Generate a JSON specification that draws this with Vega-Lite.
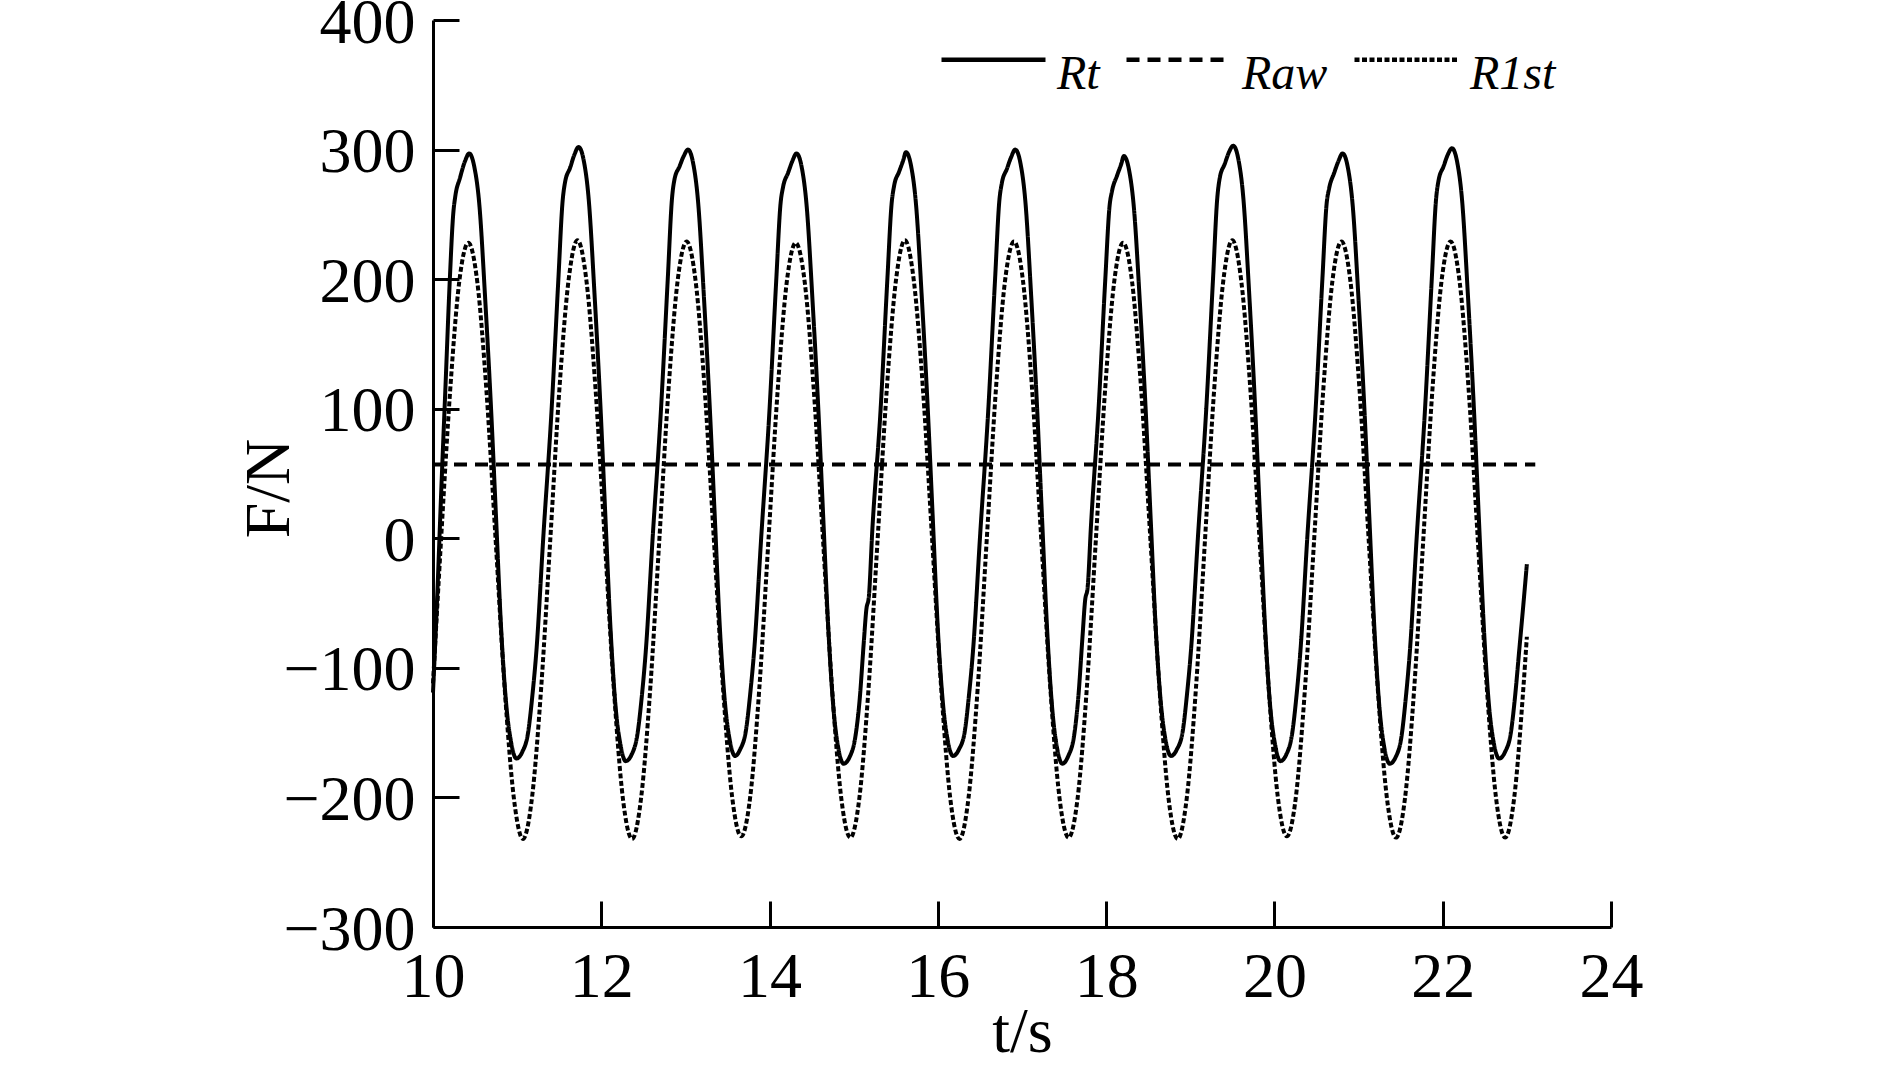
{
  "$schema": "https://vega.github.io/schema/vega-lite/v6.json",
  "autosize": "none",
  "width": 1178,
  "height": 907,
  "padding": {"left": 433, "top": 20, "right": 278, "bottom": 138},
  "background": "white",
  "config": {"view": {"stroke": null}},
  "data": {"values": [
    {"s":"Raw","t":10.0,"F":57},{"s":"Raw","t":23.1,"F":57},

    {"s":"R1st","t":10.000,"F":-112},{"s":"R1st","t":10.096,"F":-1},{"s":"R1st","t":10.204,"F":114},{"s":"R1st","t":10.312,"F":198},
    {"s":"R1st","t":10.420,"F":228},{"s":"R1st","t":10.528,"F":197},{"s":"R1st","t":10.636,"F":113},{"s":"R1st","t":10.744,"F":-1},{"s":"R1st","t":10.852,"F":-116},{"s":"R1st","t":10.960,"F":-200},
    {"s":"R1st","t":11.069,"F":-232},{"s":"R1st","t":11.177,"F":-200},{"s":"R1st","t":11.285,"F":-116},{"s":"R1st","t":11.393,"F":-2},{"s":"R1st","t":11.501,"F":114},{"s":"R1st","t":11.609,"F":198},
    {"s":"R1st","t":11.717,"F":230},{"s":"R1st","t":11.825,"F":198},{"s":"R1st","t":11.933,"F":114},{"s":"R1st","t":12.041,"F":-1},{"s":"R1st","t":12.149,"F":-116},{"s":"R1st","t":12.257,"F":-201},
    {"s":"R1st","t":12.366,"F":-232},{"s":"R1st","t":12.474,"F":-200},{"s":"R1st","t":12.582,"F":-116},{"s":"R1st","t":12.690,"F":-1},{"s":"R1st","t":12.798,"F":114},{"s":"R1st","t":12.906,"F":198},
    {"s":"R1st","t":13.014,"F":229},{"s":"R1st","t":13.122,"F":198},{"s":"R1st","t":13.230,"F":114},{"s":"R1st","t":13.338,"F":-1},{"s":"R1st","t":13.446,"F":-115},{"s":"R1st","t":13.554,"F":-199},
    {"s":"R1st","t":13.663,"F":-230},{"s":"R1st","t":13.771,"F":-199},{"s":"R1st","t":13.879,"F":-115},{"s":"R1st","t":13.987,"F":-1},{"s":"R1st","t":14.095,"F":113},{"s":"R1st","t":14.203,"F":197},
    {"s":"R1st","t":14.311,"F":228},{"s":"R1st","t":14.419,"F":197},{"s":"R1st","t":14.527,"F":113},{"s":"R1st","t":14.635,"F":-1},{"s":"R1st","t":14.743,"F":-116},{"s":"R1st","t":14.851,"F":-200},
    {"s":"R1st","t":14.960,"F":-231},{"s":"R1st","t":15.068,"F":-200},{"s":"R1st","t":15.176,"F":-116},{"s":"R1st","t":15.284,"F":-1},{"s":"R1st","t":15.392,"F":114},{"s":"R1st","t":15.500,"F":198},
    {"s":"R1st","t":15.608,"F":230},{"s":"R1st","t":15.716,"F":198},{"s":"R1st","t":15.824,"F":114},{"s":"R1st","t":15.932,"F":-1},{"s":"R1st","t":16.040,"F":-116},{"s":"R1st","t":16.148,"F":-201},
    {"s":"R1st","t":16.257,"F":-232},{"s":"R1st","t":16.365,"F":-200},{"s":"R1st","t":16.473,"F":-116},{"s":"R1st","t":16.581,"F":-1},{"s":"R1st","t":16.689,"F":114},{"s":"R1st","t":16.797,"F":198},
    {"s":"R1st","t":16.905,"F":229},{"s":"R1st","t":17.013,"F":198},{"s":"R1st","t":17.121,"F":114},{"s":"R1st","t":17.229,"F":-1},{"s":"R1st","t":17.337,"F":-116},{"s":"R1st","t":17.445,"F":-200},
    {"s":"R1st","t":17.554,"F":-231},{"s":"R1st","t":17.662,"F":-200},{"s":"R1st","t":17.770,"F":-116},{"s":"R1st","t":17.878,"F":-1},{"s":"R1st","t":17.986,"F":113},{"s":"R1st","t":18.094,"F":197},
    {"s":"R1st","t":18.202,"F":228},{"s":"R1st","t":18.310,"F":197},{"s":"R1st","t":18.418,"F":113},{"s":"R1st","t":18.526,"F":-1},{"s":"R1st","t":18.634,"F":-116},{"s":"R1st","t":18.742,"F":-201},
    {"s":"R1st","t":18.851,"F":-232},{"s":"R1st","t":18.959,"F":-200},{"s":"R1st","t":19.067,"F":-116},{"s":"R1st","t":19.175,"F":-1},{"s":"R1st","t":19.283,"F":114},{"s":"R1st","t":19.391,"F":198},
    {"s":"R1st","t":19.499,"F":230},{"s":"R1st","t":19.607,"F":198},{"s":"R1st","t":19.715,"F":114},{"s":"R1st","t":19.823,"F":-1},{"s":"R1st","t":19.931,"F":-115},{"s":"R1st","t":20.039,"F":-199},
    {"s":"R1st","t":20.148,"F":-230},{"s":"R1st","t":20.256,"F":-199},{"s":"R1st","t":20.364,"F":-115},{"s":"R1st","t":20.472,"F":-1},{"s":"R1st","t":20.580,"F":114},{"s":"R1st","t":20.688,"F":198},
    {"s":"R1st","t":20.796,"F":229},{"s":"R1st","t":20.904,"F":198},{"s":"R1st","t":21.012,"F":114},{"s":"R1st","t":21.120,"F":-1},{"s":"R1st","t":21.228,"F":-116},{"s":"R1st","t":21.336,"F":-200},
    {"s":"R1st","t":21.445,"F":-231},{"s":"R1st","t":21.553,"F":-200},{"s":"R1st","t":21.661,"F":-116},{"s":"R1st","t":21.769,"F":-1},{"s":"R1st","t":21.877,"F":114},{"s":"R1st","t":21.985,"F":198},
    {"s":"R1st","t":22.093,"F":229},{"s":"R1st","t":22.201,"F":198},{"s":"R1st","t":22.309,"F":114},{"s":"R1st","t":22.417,"F":-1},{"s":"R1st","t":22.525,"F":-116},{"s":"R1st","t":22.633,"F":-200},
    {"s":"R1st","t":22.742,"F":-231},{"s":"R1st","t":22.850,"F":-200},{"s":"R1st","t":22.958,"F":-116},{"s":"R1st","t":23.000,"F":-76},

    {"s":"Rt","t":10.000,"F":-119},{"s":"Rt","t":10.050,"F":-45},{"s":"Rt","t":10.100,"F":40},{"s":"Rt","t":10.150,"F":120},{"s":"Rt","t":10.200,"F":200},{"s":"Rt","t":10.240,"F":250},{"s":"Rt","t":10.265,"F":264},{"s":"Rt","t":10.320,"F":278},{"s":"Rt","t":10.380,"F":291},{"s":"Rt","t":10.430,"F":297},
    {"s":"Rt","t":10.490,"F":287},{"s":"Rt","t":10.550,"F":258},{"s":"Rt","t":10.620,"F":185},{"s":"Rt","t":10.690,"F":100},{"s":"Rt","t":10.750,"F":15},{"s":"Rt","t":10.810,"F":-70},{"s":"Rt","t":10.870,"F":-128},{"s":"Rt","t":10.930,"F":-158},{"s":"Rt","t":10.990,"F":-170},
    {"s":"Rt","t":11.060,"F":-165},{"s":"Rt","t":11.130,"F":-150},{"s":"Rt","t":11.180,"F":-122},{"s":"Rt","t":11.230,"F":-86},{"s":"Rt","t":11.310,"F":0},{"s":"Rt","t":11.410,"F":100},{"s":"Rt","t":11.490,"F":200},{"s":"Rt","t":11.540,"F":260},{"s":"Rt","t":11.570,"F":275},{"s":"Rt","t":11.630,"F":286},{"s":"Rt","t":11.680,"F":296},{"s":"Rt","t":11.730,"F":302},
    {"s":"Rt","t":11.790,"F":292},{"s":"Rt","t":11.850,"F":262},{"s":"Rt","t":11.920,"F":188},{"s":"Rt","t":11.990,"F":102},{"s":"Rt","t":12.050,"F":15},{"s":"Rt","t":12.110,"F":-70},{"s":"Rt","t":12.170,"F":-130},{"s":"Rt","t":12.230,"F":-160},{"s":"Rt","t":12.290,"F":-172},
    {"s":"Rt","t":12.360,"F":-167},{"s":"Rt","t":12.430,"F":-151},{"s":"Rt","t":12.480,"F":-123},{"s":"Rt","t":12.530,"F":-86},{"s":"Rt","t":12.610,"F":0},{"s":"Rt","t":12.710,"F":100},{"s":"Rt","t":12.790,"F":200},{"s":"Rt","t":12.840,"F":262},{"s":"Rt","t":12.870,"F":277},{"s":"Rt","t":12.930,"F":287},{"s":"Rt","t":12.980,"F":295},{"s":"Rt","t":13.030,"F":300},
    {"s":"Rt","t":13.090,"F":290},{"s":"Rt","t":13.150,"F":260},{"s":"Rt","t":13.220,"F":186},{"s":"Rt","t":13.290,"F":100},{"s":"Rt","t":13.350,"F":15},{"s":"Rt","t":13.410,"F":-70},{"s":"Rt","t":13.470,"F":-127},{"s":"Rt","t":13.530,"F":-157},{"s":"Rt","t":13.590,"F":-168},
    {"s":"Rt","t":13.650,"F":-163},{"s":"Rt","t":13.720,"F":-148},{"s":"Rt","t":13.770,"F":-120},{"s":"Rt","t":13.820,"F":-84},{"s":"Rt","t":13.900,"F":0},{"s":"Rt","t":14.000,"F":100},{"s":"Rt","t":14.080,"F":200},{"s":"Rt","t":14.130,"F":258},{"s":"Rt","t":14.160,"F":271},{"s":"Rt","t":14.220,"F":282},{"s":"Rt","t":14.270,"F":291},{"s":"Rt","t":14.320,"F":297},
    {"s":"Rt","t":14.380,"F":287},{"s":"Rt","t":14.440,"F":257},{"s":"Rt","t":14.510,"F":184},{"s":"Rt","t":14.580,"F":99},{"s":"Rt","t":14.640,"F":13},{"s":"Rt","t":14.700,"F":-72},{"s":"Rt","t":14.760,"F":-132},{"s":"Rt","t":14.820,"F":-163},{"s":"Rt","t":14.880,"F":-174},
    {"s":"Rt","t":14.950,"F":-169},{"s":"Rt","t":15.020,"F":-153},{"s":"Rt","t":15.070,"F":-125},{"s":"Rt","t":15.120,"F":-80},{"s":"Rt","t":15.150,"F":-55},{"s":"Rt","t":15.180,"F":-45},{"s":"Rt","t":15.220,"F":5},{"s":"Rt","t":15.320,"F":100},{"s":"Rt","t":15.400,"F":200},{"s":"Rt","t":15.450,"F":258},{"s":"Rt","t":15.480,"F":272},{"s":"Rt","t":15.540,"F":283},{"s":"Rt","t":15.590,"F":292},{"s":"Rt","t":15.620,"F":298},
    {"s":"Rt","t":15.680,"F":288},{"s":"Rt","t":15.740,"F":258},{"s":"Rt","t":15.810,"F":185},{"s":"Rt","t":15.880,"F":100},{"s":"Rt","t":15.940,"F":15},{"s":"Rt","t":16.000,"F":-70},{"s":"Rt","t":16.060,"F":-127},{"s":"Rt","t":16.120,"F":-157},{"s":"Rt","t":16.180,"F":-168},
    {"s":"Rt","t":16.250,"F":-163},{"s":"Rt","t":16.320,"F":-149},{"s":"Rt","t":16.370,"F":-121},{"s":"Rt","t":16.420,"F":-85},{"s":"Rt","t":16.500,"F":0},{"s":"Rt","t":16.600,"F":100},{"s":"Rt","t":16.680,"F":200},{"s":"Rt","t":16.730,"F":260},{"s":"Rt","t":16.760,"F":274},{"s":"Rt","t":16.820,"F":285},{"s":"Rt","t":16.870,"F":294},{"s":"Rt","t":16.920,"F":300},
    {"s":"Rt","t":16.980,"F":290},{"s":"Rt","t":17.040,"F":260},{"s":"Rt","t":17.110,"F":186},{"s":"Rt","t":17.180,"F":100},{"s":"Rt","t":17.240,"F":13},{"s":"Rt","t":17.300,"F":-72},{"s":"Rt","t":17.360,"F":-132},{"s":"Rt","t":17.420,"F":-163},{"s":"Rt","t":17.480,"F":-174},
    {"s":"Rt","t":17.550,"F":-168},{"s":"Rt","t":17.620,"F":-152},{"s":"Rt","t":17.670,"F":-122},{"s":"Rt","t":17.720,"F":-75},{"s":"Rt","t":17.750,"F":-48},{"s":"Rt","t":17.780,"F":-38},{"s":"Rt","t":17.820,"F":10},{"s":"Rt","t":17.910,"F":100},{"s":"Rt","t":17.990,"F":200},{"s":"Rt","t":18.040,"F":256},{"s":"Rt","t":18.070,"F":268},{"s":"Rt","t":18.130,"F":280},{"s":"Rt","t":18.180,"F":289},{"s":"Rt","t":18.210,"F":295},
    {"s":"Rt","t":18.270,"F":285},{"s":"Rt","t":18.330,"F":255},{"s":"Rt","t":18.400,"F":183},{"s":"Rt","t":18.470,"F":99},{"s":"Rt","t":18.530,"F":14},{"s":"Rt","t":18.590,"F":-70},{"s":"Rt","t":18.650,"F":-127},{"s":"Rt","t":18.710,"F":-157},{"s":"Rt","t":18.770,"F":-168},
    {"s":"Rt","t":18.840,"F":-163},{"s":"Rt","t":18.910,"F":-149},{"s":"Rt","t":18.960,"F":-121},{"s":"Rt","t":19.010,"F":-85},{"s":"Rt","t":19.090,"F":0},{"s":"Rt","t":19.190,"F":100},{"s":"Rt","t":19.270,"F":200},{"s":"Rt","t":19.320,"F":262},{"s":"Rt","t":19.350,"F":278},{"s":"Rt","t":19.410,"F":289},{"s":"Rt","t":19.460,"F":298},{"s":"Rt","t":19.510,"F":303},
    {"s":"Rt","t":19.570,"F":293},{"s":"Rt","t":19.630,"F":263},{"s":"Rt","t":19.700,"F":189},{"s":"Rt","t":19.770,"F":102},{"s":"Rt","t":19.830,"F":15},{"s":"Rt","t":19.890,"F":-70},{"s":"Rt","t":19.950,"F":-130},{"s":"Rt","t":20.010,"F":-160},{"s":"Rt","t":20.070,"F":-172},
    {"s":"Rt","t":20.140,"F":-167},{"s":"Rt","t":20.210,"F":-151},{"s":"Rt","t":20.260,"F":-123},{"s":"Rt","t":20.310,"F":-86},{"s":"Rt","t":20.390,"F":0},{"s":"Rt","t":20.490,"F":100},{"s":"Rt","t":20.570,"F":200},{"s":"Rt","t":20.620,"F":258},{"s":"Rt","t":20.650,"F":270},{"s":"Rt","t":20.710,"F":282},{"s":"Rt","t":20.760,"F":291},{"s":"Rt","t":20.810,"F":297},
    {"s":"Rt","t":20.870,"F":287},{"s":"Rt","t":20.930,"F":257},{"s":"Rt","t":21.000,"F":184},{"s":"Rt","t":21.070,"F":99},{"s":"Rt","t":21.130,"F":13},{"s":"Rt","t":21.190,"F":-72},{"s":"Rt","t":21.250,"F":-132},{"s":"Rt","t":21.310,"F":-163},{"s":"Rt","t":21.370,"F":-174},
    {"s":"Rt","t":21.440,"F":-169},{"s":"Rt","t":21.510,"F":-153},{"s":"Rt","t":21.560,"F":-124},{"s":"Rt","t":21.610,"F":-87},{"s":"Rt","t":21.690,"F":0},{"s":"Rt","t":21.790,"F":100},{"s":"Rt","t":21.870,"F":200},{"s":"Rt","t":21.920,"F":261},{"s":"Rt","t":21.950,"F":276},{"s":"Rt","t":22.010,"F":287},{"s":"Rt","t":22.060,"F":296},{"s":"Rt","t":22.110,"F":301},
    {"s":"Rt","t":22.170,"F":291},{"s":"Rt","t":22.230,"F":261},{"s":"Rt","t":22.300,"F":187},{"s":"Rt","t":22.370,"F":101},{"s":"Rt","t":22.430,"F":15},{"s":"Rt","t":22.490,"F":-70},{"s":"Rt","t":22.550,"F":-129},{"s":"Rt","t":22.610,"F":-159},{"s":"Rt","t":22.670,"F":-170},
    {"s":"Rt","t":22.740,"F":-165},{"s":"Rt","t":22.810,"F":-150},{"s":"Rt","t":22.860,"F":-122},{"s":"Rt","t":22.910,"F":-86},{"s":"Rt","t":22.960,"F":-50},{"s":"Rt","t":23.000,"F":-20}
  ]},
  "mark": {"type": "line", "interpolate": "monotone", "strokeWidth": 4, "color": "black"},
  "encoding": {
    "x": {
      "field": "t", "type": "quantitative",
      "scale": {"domain": [10, 24], "nice": false, "zero": false},
      "axis": {
        "values": [10, 12, 14, 16, 18, 20, 22, 24],
        "title": "t/s", "titleFont": "Liberation Serif", "titleFontSize": 64, "titleFontWeight": "normal", "titleColor": "black",
        "titleBaseline": "alphabetic", "titleY": 124,
        "labelFont": "Liberation Serif", "labelFontSize": 64, "labelColor": "black", "labelPadding": 44, "labelFlush": false, "labelOverlap": false,
        "tickSize": -26, "tickWidth": 3, "tickColor": "black",
        "domainColor": "black", "domainWidth": 3, "grid": false
      }
    },
    "y": {
      "field": "F", "type": "quantitative",
      "scale": {"domain": [-300, 400], "nice": false, "zero": false},
      "axis": {
        "values": [-300, -200, -100, 0, 100, 200, 300, 400],
        "title": "F/N", "titleFont": "Liberation Serif", "titleFontSize": 64, "titleFontWeight": "normal", "titleColor": "black",
        "titleBaseline": "alphabetic", "titleX": -145, "titleY": 468, "titleAngle": -90,
        "labelFont": "Liberation Serif", "labelFontSize": 64, "labelColor": "black", "labelPadding": 44, "labelOffset": 3, "labelOverlap": false,
        "tickSize": -26, "tickWidth": 3, "tickColor": "black",
        "domainColor": "black", "domainWidth": 3, "grid": false
      }
    },
    "strokeDash": {
      "field": "s", "type": "nominal",
      "scale": {"domain": ["Rt", "Raw", "R1st"], "range": [[1, 0], [13, 8], [5, 2.5]]},
      "legend": {
        "orient": "none", "legendX": 506, "legendY": 0, "direction": "horizontal", "title": null, "padding": 0,
        "symbolType": "M-1,-0.29H1", "symbolSize": 10816, "symbolStrokeWidth": 4.5, "symbolStrokeColor": "black", "symbolFillColor": "transparent",
        "labelFont": "Liberation Serif", "labelFontStyle": "italic", "labelFontSize": 48, "labelColor": "black", "labelOffset": 9,
        "columnPadding": 17
      }
    }
  }
}
